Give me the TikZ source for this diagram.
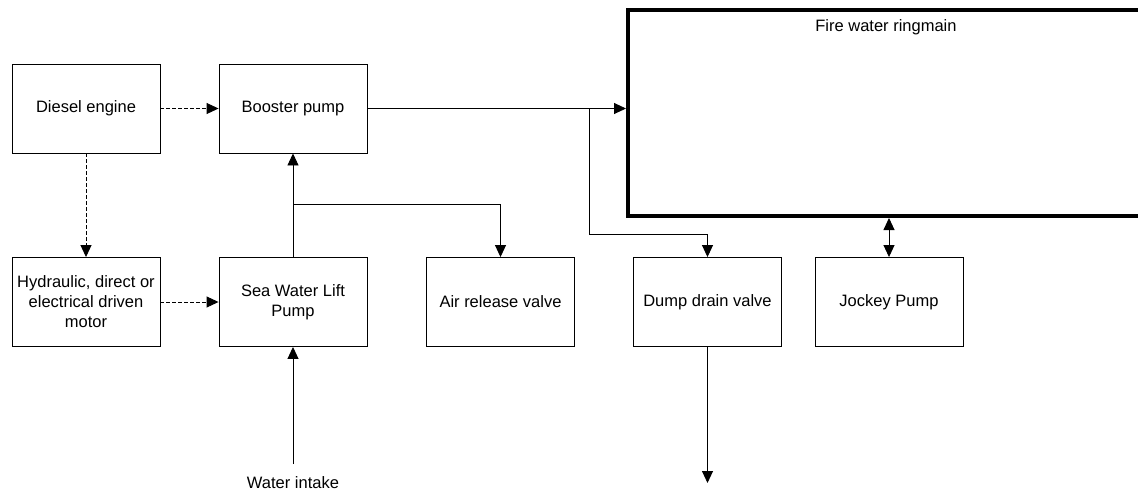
\documentclass[tikz,border=0pt]{standalone}
\usepackage{fontspec}
\setmainfont{Liberation Sans}
\usetikzlibrary{arrows.meta}
\begin{document}
\begin{tikzpicture}[x=1pt,y=-1pt,
  every node/.style={font=\fontsize{16.5}{20}\selectfont},
  unit/.style={draw, line width=0.9pt, minimum width=148, minimum height=89,
    inner sep=0pt, align=center},
  ringbox/.style={draw, line width=4pt, inner sep=0pt},
  head/.tip={Triangle[length=12pt,width=11pt]},
  flow/.style={-head, line width=0.9pt},
  both/.style={head-head, line width=0.9pt},
  drive/.style={-head, line width=0.9pt, dash pattern=on 4pt off 2pt},
  label/.style={inner sep=0pt}]
\useasboundingbox (0,0) rectangle (1138,493);
\clip (0,0) rectangle (1138,493);

% equipment blocks
\node[unit] (diesel)  at (86,108.5)   {Diesel engine};
\node[unit] (booster) at (293,108.5)  {Booster pump};
\node[unit] (motor)   at (86,302)     {Hydraulic, direct or\\electrical driven\\motor};
\node[unit] (lift)    at (293,302)    {Sea Water Lift\\Pump};
\node[unit] (air)     at (500.5,302)  {Air release valve};
\node[unit] (dump)    at (707.5,302)  {Dump drain valve};
\node[unit] (jockey)  at (889,302)    {Jockey Pump};

% ring main (continues past the right edge)
\node[ringbox, minimum width=540, minimum height=206.5] (ring) at (898,112.75) {};
\node[label] (ringtext) at (886,27) {Fire water ringmain};

% intake label
\node[label] (intake) at (293,483) {Water intake};

% branch points and free ends
\coordinate (teeA) at (589,108.5);
\coordinate (teeB) at (589,234);
\coordinate (teeC) at (293,204);
\coordinate (drain) at (707.5,483);
\coordinate (inlet) at (293,464);

% mechanical drives
\draw[drive] (diesel.east) -- (booster.west);
\draw[drive] (diesel.south) -- (motor.north);
\draw[drive] (motor.east) -- (lift.west);

% water flow
\draw[flow] (inlet) -- (lift.south);
\draw[flow] (lift.north) -- (booster.south);
\draw[flow] (teeC) -| (air.north);
\draw[flow] (booster.east) -- (booster.east -| ring.west);
\draw[line width=0.9pt] (teeA) -- (teeB);
\draw[flow] (teeB) -| (dump.north);
\draw[flow] (dump.south) -- (drain);
\draw[both] (jockey.north |- ring.south) -- (jockey.north);
\end{tikzpicture}
\end{document}
